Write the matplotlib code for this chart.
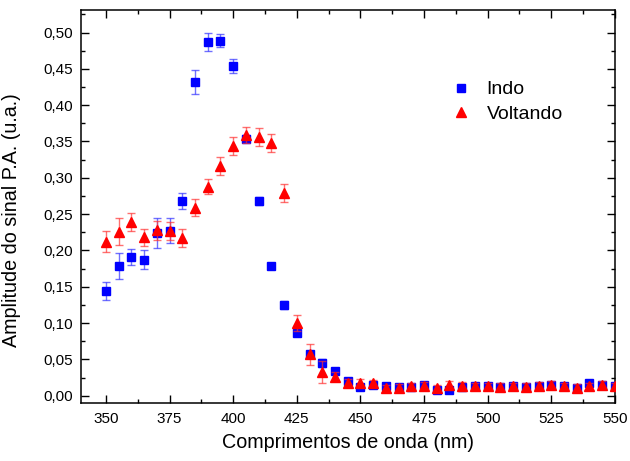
import matplotlib
matplotlib.use("Agg")
import matplotlib.pyplot as plt
from matplotlib.ticker import MultipleLocator, FuncFormatter
import numpy as np

plt.rcParams['font.family'] = ['Liberation Sans', 'DejaVu Sans']

wavelength = [350, 355, 360, 365, 370, 375, 380, 385, 390, 395, 400, 405, 410, 415,
              420, 425, 430, 435, 440, 445, 450, 455, 460, 465, 470, 475, 480, 485,
              490, 495, 500, 505, 510, 515, 520, 525, 530, 535, 540, 545, 550]

indo = [0.144, 0.178, 0.191, 0.187, 0.224, 0.227, 0.268, 0.432, 0.487, 0.489, 0.454,
        0.354, 0.268, 0.178, 0.125, 0.086, 0.058, 0.045, 0.034, 0.020, 0.012, 0.015,
        0.013, 0.012, 0.012, 0.015, 0.008, 0.008, 0.012, 0.013, 0.013, 0.012, 0.013,
        0.012, 0.014, 0.015, 0.013, 0.011, 0.017, 0.015, 0.013]
indo_err = [0.012, 0.018, 0.011, 0.013, 0.020, 0.017, 0.011, 0.016, 0.012, 0.009, 0.010,
            0.005, 0.006, 0.003, 0.005, 0.003, 0.004, 0.005, 0.004, 0.003, 0.003, 0.003,
            0.003, 0.003, 0.003, 0.003, 0.003, 0.003, 0.003, 0.003, 0.003, 0.003, 0.003,
            0.003, 0.003, 0.003, 0.003, 0.003, 0.003, 0.003, 0.003]

voltando = [0.212, 0.226, 0.239, 0.218, 0.228, 0.227, 0.217, 0.259, 0.288, 0.316, 0.344,
            0.359, 0.356, 0.348, 0.279, 0.100, 0.057, 0.033, 0.026, 0.018, 0.018, 0.017,
            0.010, 0.011, 0.013, 0.014, 0.010, 0.015, 0.014, 0.013, 0.013, 0.012, 0.013,
            0.012, 0.014, 0.015, 0.013, 0.011, 0.013, 0.015, 0.013]
voltando_err = [0.0145, 0.018, 0.012, 0.0115, 0.013, 0.0125, 0.012, 0.0115, 0.011, 0.0125,
                0.012, 0.0115, 0.012, 0.012, 0.012, 0.011, 0.0145, 0.015, 0.006, 0.005,
                0.005, 0.005, 0.005, 0.005, 0.005, 0.005, 0.005, 0.005, 0.005, 0.005,
                0.005, 0.005, 0.005, 0.005, 0.005, 0.005, 0.005, 0.005, 0.005, 0.005, 0.005]

fig = plt.figure(figsize=(6.3, 4.61), dpi=100)
ax = fig.add_axes([0.1286, 0.1251, 0.976 - 0.1286, 0.9783 - 0.1251])

ax.errorbar(wavelength, indo, yerr=indo_err, fmt='s', color='#0000ff', ms=5.8,
            ecolor=(0.2, 0.2, 1.0, 0.7), elinewidth=1.0, capsize=2.8, capthick=1.0,
            label='Indo', zorder=3)
ax.errorbar(wavelength, voltando, yerr=voltando_err, fmt='^', color='#ff0000', ms=7.5,
            ecolor=(1.0, 0.2, 0.2, 0.7), elinewidth=1.0, capsize=2.8, capthick=1.0,
            label='Voltando', zorder=4)

ax.set_xlim(340.2, 550)
ax.set_ylim(-0.0105, 0.531)
ax.xaxis.set_major_locator(MultipleLocator(25))
ax.xaxis.set_minor_locator(MultipleLocator(12.5))
ax.yaxis.set_major_locator(MultipleLocator(0.05))
ax.yaxis.set_minor_locator(MultipleLocator(0.025))
ax.yaxis.set_major_formatter(FuncFormatter(lambda v, p: f"{v:.2f}".replace('.', ',')))

ax.tick_params(which='both', direction='in', top=True, right=True, labelsize=11, width=1.0)
ax.tick_params(which='major', length=5.5, pad=6)
ax.tick_params(which='minor', length=3)
for s in ax.spines.values():
    s.set_linewidth(1.1)

ax.set_xlabel('Comprimentos de onda (nm)', fontsize=14.2, labelpad=5)
ax.set_ylabel('Amplitude do sinal P.A. (u.a.)', fontsize=14.2)
ax.yaxis.set_label_coords(-0.112, 0.466)

handles, labels = ax.get_legend_handles_labels()
handles = [h[0] for h in handles]
ax.legend(handles, labels, loc='upper left', bbox_to_anchor=(0.694, 0.82), frameon=False,
          fontsize=14, handlelength=1.0, handletextpad=0.8, labelspacing=0.36,
          borderpad=0, borderaxespad=0)

fig.savefig('out.png', dpi=100)
